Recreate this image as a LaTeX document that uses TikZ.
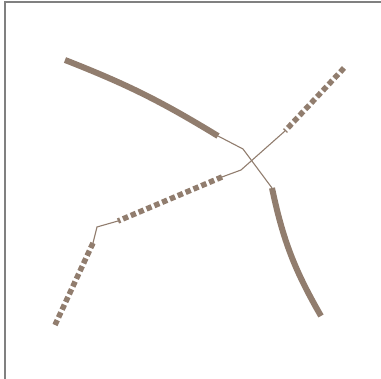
\documentclass[tikz,border=0pt]{standalone}
\usetikzlibrary{calc}
\definecolor{edgeBrown}{RGB}{145,125,110}
\definecolor{frameGray}{RGB}{128,128,128}
\tikzset{
  stubsolid/.style={draw=edgeBrown, line width=6pt},
  stubdotted/.style={draw=edgeBrown, line width=5.5pt, dash pattern=on 5.5pt off 3pt},
  linkthin/.style={draw=edgeBrown, line width=1.1pt},
  framerule/.style={draw=frameGray, line width=1.2pt}
}
\begin{document}
\begin{tikzpicture}[x=1pt, y=-1pt]
  \useasboundingbox (0,0) rectangle (381,379);
  \draw[framerule] (5,379) -- (5,2) -- (381,2);

  % end points of the four stubs
  \coordinate (aStart) at (65,60);
  \coordinate (aEnd) at (218,136);
  \coordinate (bStart) at (272,188);
  \coordinate (bEnd) at (321,316);
  \coordinate (cStart) at (344,68);
  \coordinate (cEnd) at (285,131);
  \coordinate (dStart) at (222,177);
  \coordinate (dEnd) at (118,221);
  \coordinate (eStart) at (93,243);
  \coordinate (eEnd) at (55,325);
  % bends of the thin links
  \coordinate (abBend) at (243,149);
  \coordinate (cdBend) at (241,170);
  \coordinate (deBend) at (97,227);

  \draw[stubsolid] (aStart) to[bend left=5] (aEnd);
  \draw[stubsolid] (bStart) to[bend right=9] (bEnd);
  \draw[stubdotted] (cStart) -- (cEnd);
  \draw[stubdotted] (dStart) -- (dEnd);
  \draw[stubdotted] (eStart) -- (eEnd);

  \draw[linkthin] (aEnd) -- (abBend) -- (bStart);
  \draw[linkthin] (cEnd) -- (cdBend) -- (dStart);
  \draw[linkthin] (dEnd) -- (deBend) -- (eStart);
\end{tikzpicture}
\end{document}
